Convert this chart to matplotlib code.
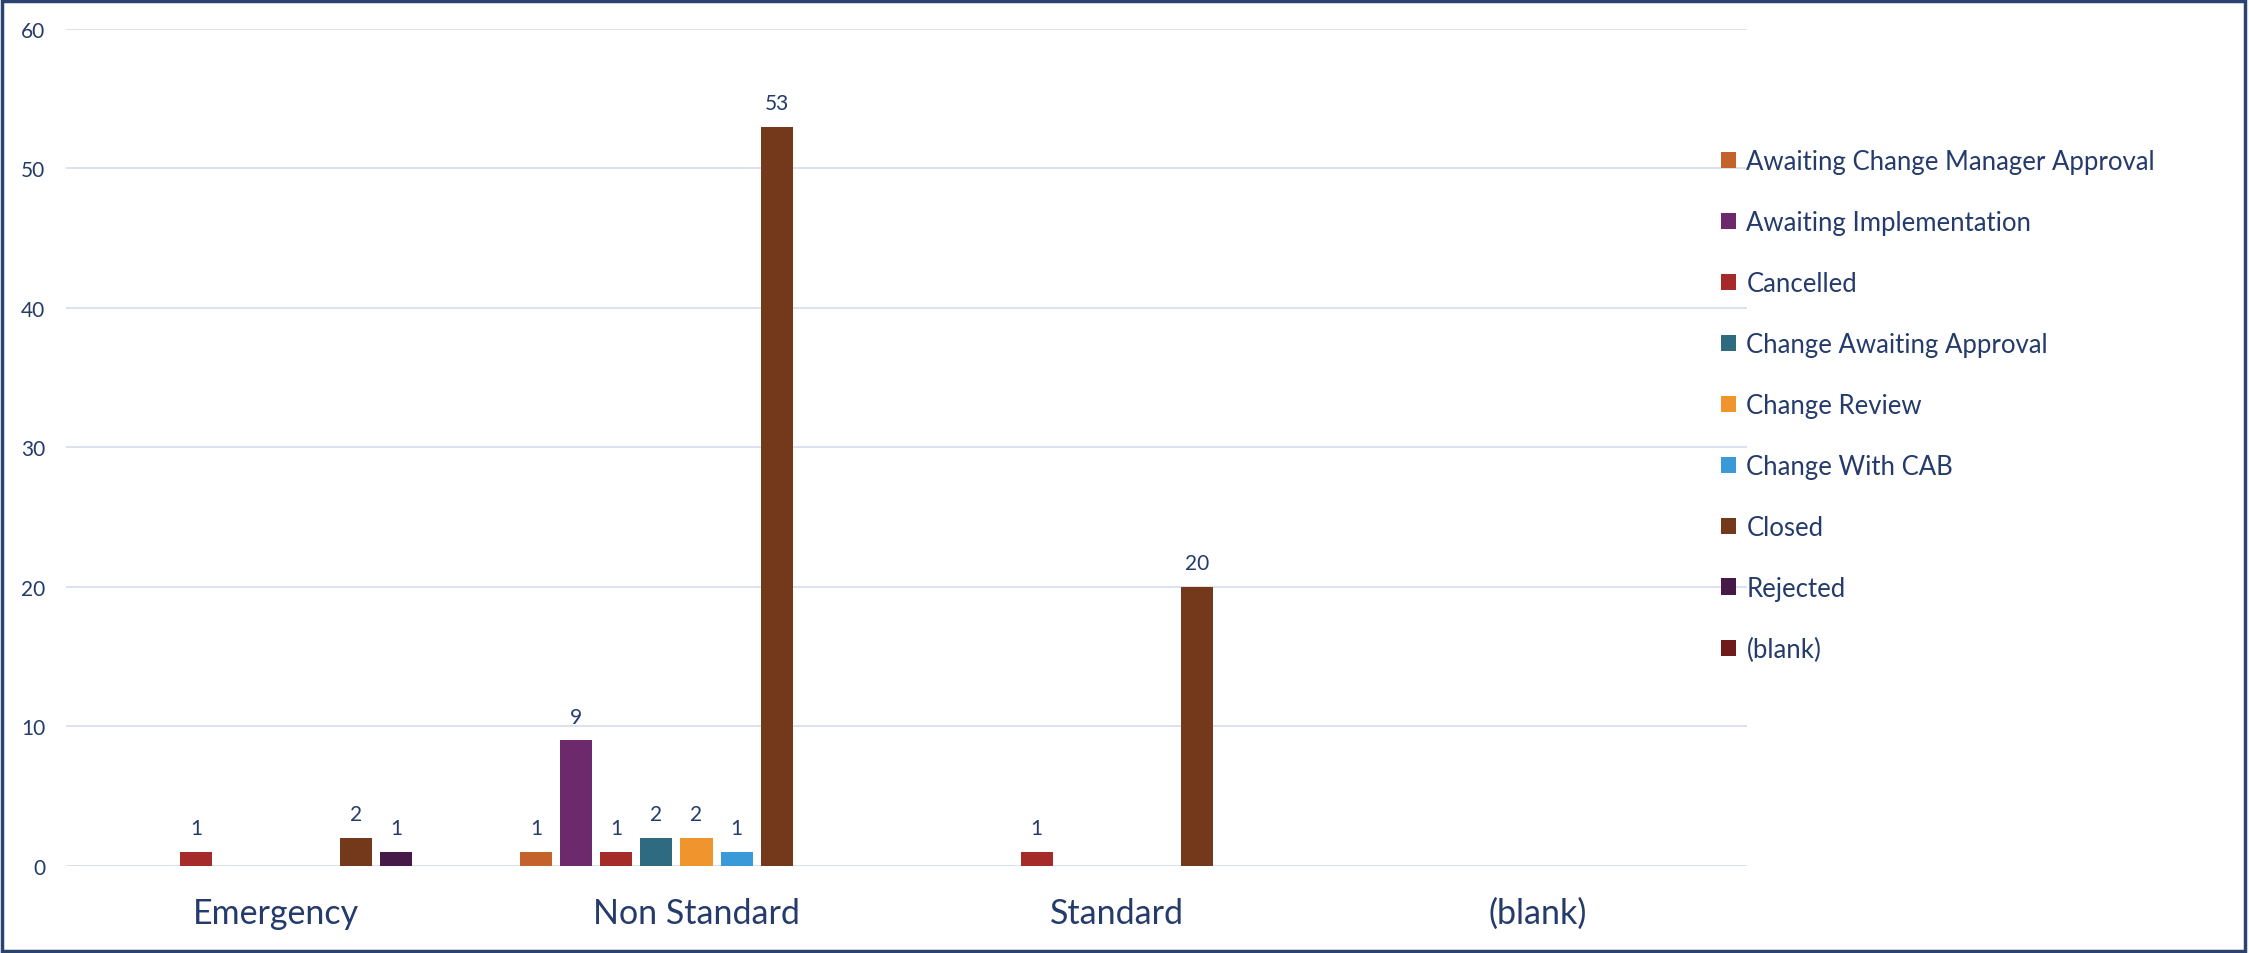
import numpy as np
import matplotlib
matplotlib.use('Agg')
from matplotlib import pyplot as plt
from matplotlib.patches import Rectangle

plt.rcParams['font.family'] = ['Lato', 'DejaVu Sans']

categories = ['Emergency', 'Non Standard', 'Standard', '(blank)']
series = ['Awaiting Change Manager Approval', 'Awaiting Implementation', 'Cancelled',
          'Change Awaiting Approval', 'Change Review', 'Change With CAB', 'Closed',
          'Rejected', '(blank)']
colors = ['#C3622A', '#6C2A6C', '#A52A2A', '#2E6B80', '#F0952E', '#3A9AD8',
          '#74391A', '#451A48', '#6E1B1B']

# values per series, one per category
awaiting_cma = [0, 1, 0, 0]
awaiting_impl = [0, 9, 0, 0]
cancelled = [1, 1, 1, 0]
change_awaiting = [0, 2, 0, 0]
change_review = [0, 2, 0, 0]
change_cab = [0, 1, 0, 0]
closed = [2, 53, 20, 0]
rejected = [1, 0, 0, 0]
blank = [0, 0, 0, 0]
values = [awaiting_cma, awaiting_impl, cancelled, change_awaiting, change_review,
          change_cab, closed, rejected, blank]

text_col = '#243B6B'
fig = plt.figure(figsize=(22.49, 9.54), dpi=100)
ax = fig.add_axes([0.0293, 0.0912, 0.7477, 0.8774])

x = np.arange(len(categories))
slot = 40 / 420
width = 32 / 420
for i, (name, vals, c) in enumerate(zip(series, values, colors)):
    pos = x + (i - 4) * slot
    bars = ax.bar(pos, vals, width, color=c, label=name, linewidth=0, zorder=3)
    labels = [str(v) if v else '' for v in vals]
    ax.bar_label(bars, labels=labels, padding=10, fontsize=15, color=text_col)

ax.set_xlim(-0.5, 3.5)
ax.set_ylim(0, 60)
ax.set_yticks(range(0, 61, 10))
ax.set_xticks(x)
ax.set_xticklabels(categories, fontsize=24.5, color=text_col)
ax.tick_params(axis='x', length=0, pad=22)
ax.tick_params(axis='y', length=0, pad=15, labelsize=15, labelcolor=text_col)
ax.grid(axis='y', color='#D6DCEE', linewidth=1.2, zorder=0)
for s in ax.spines.values():
    s.set_visible(False)

leg = ax.legend(loc='upper left', bbox_to_anchor=(0.978, 0.869), frameon=False,
                fontsize=18.5, labelcolor=text_col, handlelength=0.6, handleheight=0.6,
                handletextpad=0.4, labelspacing=1.4, borderaxespad=0)

fig.patches.append(Rectangle((0.001, 0.002), 0.997, 0.996, transform=fig.transFigure,
                             fill=False, edgecolor='#2B4370', linewidth=2.5))

fig.savefig('out.png', dpi=100)
